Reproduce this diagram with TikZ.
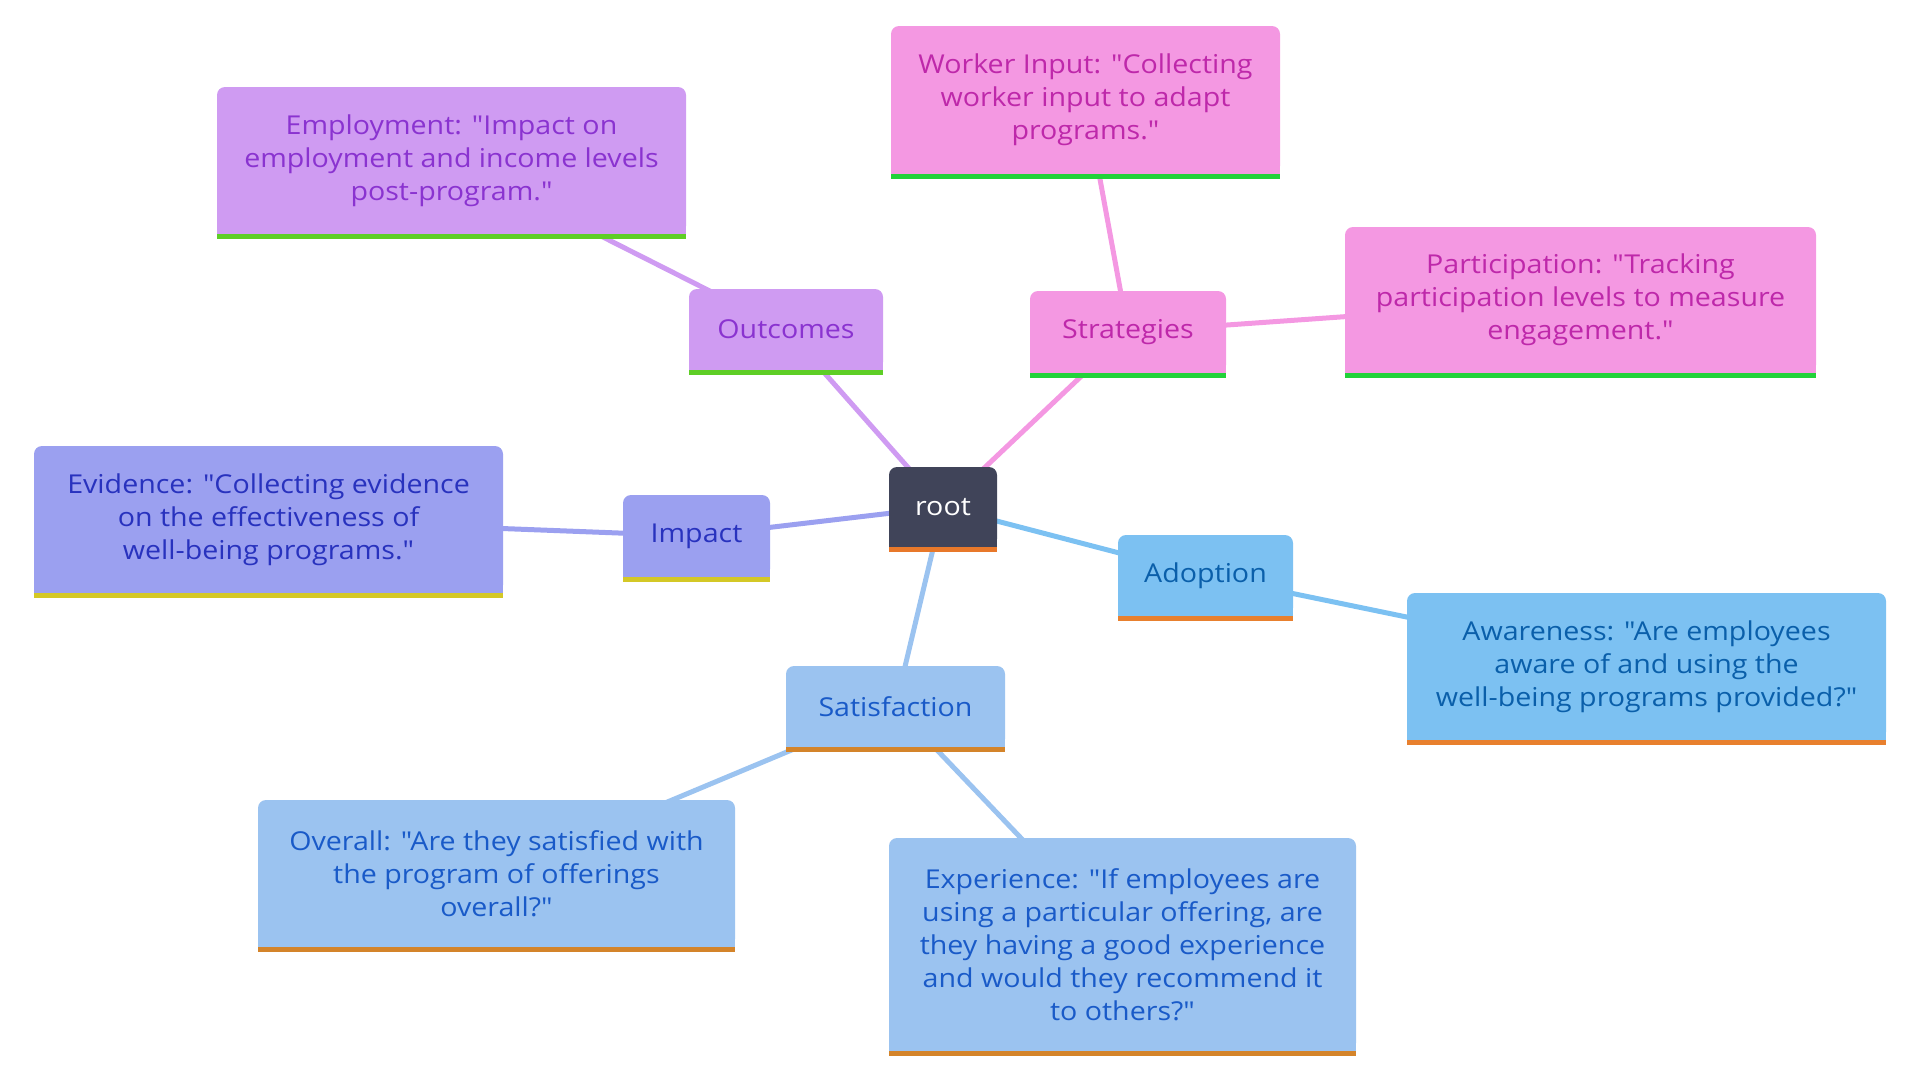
\documentclass[tikz,border=0pt]{standalone}
\usepackage{fontspec}
\setmainfont{Open Sans}[Ligatures=TeXOff, FakeStretch=1.1]
\usetikzlibrary{backgrounds}
\definecolor{rootfill}{HTML}{404459}
\definecolor{rootbar}{HTML}{E8782A}
\definecolor{outfill}{HTML}{CF9BF2}
\definecolor{outtext}{HTML}{8A33D0}
\definecolor{outbar}{HTML}{5ECE26}
\definecolor{strfill}{HTML}{F498E2}
\definecolor{strtext}{HTML}{BE28AA}
\definecolor{strbar}{HTML}{22D23A}
\definecolor{impfill}{HTML}{9BA0F0}
\definecolor{imptext}{HTML}{2832BE}
\definecolor{impbar}{HTML}{D4C826}
\definecolor{adofill}{HTML}{7CC1F2}
\definecolor{adotext}{HTML}{0A5FAA}
\definecolor{adobar}{HTML}{E8802E}
\definecolor{satfill}{HTML}{9BC3F0}
\definecolor{sattext}{HTML}{195AC8}
\definecolor{satbar}{HTML}{D4842A}

\begin{document}
\begin{tikzpicture}[x=1pt, y=-1pt,
    box/.style={rounded corners=8pt, align=center, inner sep=0pt, font=\fontsize{26}{33}\selectfont},
    link/.style={line width=5pt}]
    \useasboundingbox (0,0) rectangle (1920,1080);
    \node[box, fill=rootfill, text=white, minimum width=108pt, minimum height=80pt] (root) at (943,507) {root};
    \node[box, fill=outfill, text=outtext, minimum width=194pt, minimum height=81pt] (outcomes) at (786,329.5) {Outcomes};
    \node[box, fill=strfill, text=strtext, minimum width=196pt, minimum height=82pt] (strategies) at (1128,332) {Strategies};
    \node[box, fill=impfill, text=imptext, minimum width=147pt, minimum height=82pt] (impact) at (696.5,536) {Impact};
    \node[box, fill=adofill, text=adotext, minimum width=175pt, minimum height=81pt] (adoption) at (1205.5,575.5) {Adoption};
    \node[box, fill=satfill, text=sattext, minimum width=219pt, minimum height=81pt] (satisfaction) at (895.5,706.5) {Satisfaction};
    \node[box, fill=outfill, text=outtext, minimum width=469pt, minimum height=147pt] (employment) at (451.5,160.5) {Employment: "Impact on\\employment and income levels\\post-program."};
    \node[box, fill=strfill, text=strtext, minimum width=389pt, minimum height=148pt] (worker) at (1085.5,100) {Worker Input: "Collecting\\worker input to adapt\\programs."};
    \node[box, fill=strfill, text=strtext, minimum width=471pt, minimum height=146pt] (participation) at (1580.5,300) {Participation: "Tracking\\participation levels to measure\\engagement."};
    \node[box, fill=impfill, text=imptext, minimum width=469pt, minimum height=147pt] (evidence) at (268.5,519.5) {Evidence: "Collecting evidence\\on the effectiveness of\\well-being programs."};
    \node[box, fill=adofill, text=adotext, minimum width=479pt, minimum height=147pt] (awareness) at (1646.5,666.5) {Awareness: "Are employees\\aware of and using the\\well-being programs provided?"};
    \node[box, fill=satfill, text=sattext, minimum width=477pt, minimum height=147pt] (overall) at (496.5,873.5) {Overall: "Are they satisfied with\\the program of offerings\\overall?"};
    \node[box, fill=satfill, text=sattext, minimum width=467pt, minimum height=213pt] (experience) at (1122.5,944.5) {Experience: "If employees are\\using a particular offering, are\\they having a good experience\\and would they recommend it\\to others?"};
    \begin{scope}[on background layer]
        \draw[link, outfill] (root.center) -- (outcomes.center);
        \draw[link, strfill] (root.center) -- (strategies.center);
        \draw[link, impfill] (root.center) -- (impact.center);
        \draw[link, adofill] (root.center) -- (adoption.center);
        \draw[link, satfill] (root.center) -- (satisfaction.center);
        \draw[link, outfill] (outcomes.center) -- (employment.center);
        \draw[link, strfill] (strategies.center) -- (worker.center);
        \draw[link, strfill] (strategies.center) -- (participation.center);
        \draw[link, impfill] (impact.center) -- (evidence.center);
        \draw[link, adofill] (adoption.center) -- (awareness.center);
        \draw[link, satfill] (satisfaction.center) -- (overall.center);
        \draw[link, satfill] (satisfaction.center) -- (experience.center);
    \end{scope}
    \foreach \n/\f/\b in {root/rootfill/rootbar, outcomes/outfill/outbar, strategies/strfill/strbar,
        impact/impfill/impbar, adoption/adofill/adobar, satisfaction/satfill/satbar,
        employment/outfill/outbar, worker/strfill/strbar, participation/strfill/strbar,
        evidence/impfill/impbar, awareness/adofill/adobar, overall/satfill/satbar, experience/satfill/satbar}
    {
        \fill[\f] ([yshift=8pt]\n.south west) rectangle (\n.south east);
        \fill[\b] (\n.south west) rectangle ([yshift=-5pt]\n.south east);
    }
\end{tikzpicture}
\end{document}
